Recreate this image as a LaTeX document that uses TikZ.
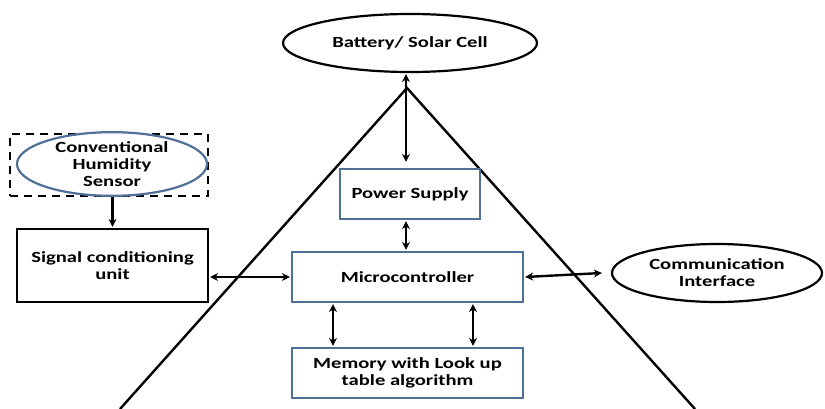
\documentclass[tikz,border=0pt]{standalone}
\usepackage{fontspec}
\setmainfont{Carlito}[FakeStretch=1.33]
\usetikzlibrary{shapes.geometric,arrows.meta}
\definecolor{boxblue}{RGB}{80,112,152}
\begin{document}
\begin{tikzpicture}[x=1pt,y=1pt,
  every node/.style={font=\fontsize{15.5}{17}\selectfont\bfseries, align=center, inner sep=0pt},
  bluebox/.style={draw=boxblue, line width=2.2pt, fill=white, rectangle},
  blackbox/.style={draw=black, line width=2.2pt, fill=white, rectangle},
  oval/.style={draw=black, line width=2.2pt, fill=white, ellipse},
  blueoval/.style={draw=boxblue, line width=2.2pt, fill=white, ellipse},
  tri/.style={draw=black, line width=2.4pt},
  link/.style={line width=2.4pt, {Stealth[length=8pt,width=8pt]}-{Stealth[length=8pt,width=8pt]}},
  onelink/.style={line width=2.4pt, -{Stealth[length=8pt,width=8pt]}}]
\useasboundingbox (0,0) rectangle (825,-409);
\begin{scope}
\clip (0,0) rectangle (825,-409);
\coordinate (apex) at (407,-88);
\coordinate (lfoot) at (120,-409);
\coordinate (rfoot) at (695,-409);
\draw[tri] (lfoot) -- (apex) -- (rfoot);
\end{scope}
\node[oval, minimum width=254, minimum height=58] (bat) at (410,-43) {Battery/ Solar Cell};
\node[draw=black, dash pattern=on 8pt off 6pt, line width=2.2pt, rectangle, minimum width=198, minimum height=62] (dash) at (109,-165) {};
\node[blueoval, minimum width=190, minimum height=62] (sens) at (112,-164) {Conventional\\Humidity\\Sensor};
\node[blackbox, minimum width=191, minimum height=73] (sig) at (112.5,-265.5) {Signal conditioning\\unit};
\node[bluebox, minimum width=140, minimum height=50] (ps) at (410,-194) {Power Supply};
\node[bluebox, minimum width=231, minimum height=50] (mc) at (407.5,-277) {Microcontroller};
\node[bluebox, minimum width=231, minimum height=50] (mem) at (407.5,-373) {Memory with Look up\\table algorithm};
\node[oval, minimum width=210, minimum height=58] (comm) at (717,-273) {Communication\\Interface};
\coordinate (bt) at ([xshift=-4pt,yshift=-1pt]bat.south);
\coordinate (pt) at ([xshift=-4pt,yshift=6pt]ps.north);
\draw[link] (bt) -- (pt);
\draw[link] ([xshift=-4pt,yshift=-1pt]ps.south) -- ([xshift=-1.5pt,yshift=1pt]mc.north);
\draw[onelink] (dash.south -| sig.north) -- ([yshift=1pt]sig.north);
\draw[link] ([xshift=1pt]sig.east |- mc.west) -- ([xshift=-1pt]mc.west);
\draw[link] ([xshift=1pt]mc.east) -- ([xshift=-9pt]comm.west);
\draw[link] ([xshift=-74.5pt,yshift=-1pt]mc.south) -- ([xshift=-74.5pt,yshift=1pt]mem.north);
\draw[link] ([xshift=65.5pt,yshift=-1pt]mc.south) -- ([xshift=65.5pt,yshift=1pt]mem.north);
\end{tikzpicture}
\end{document}
